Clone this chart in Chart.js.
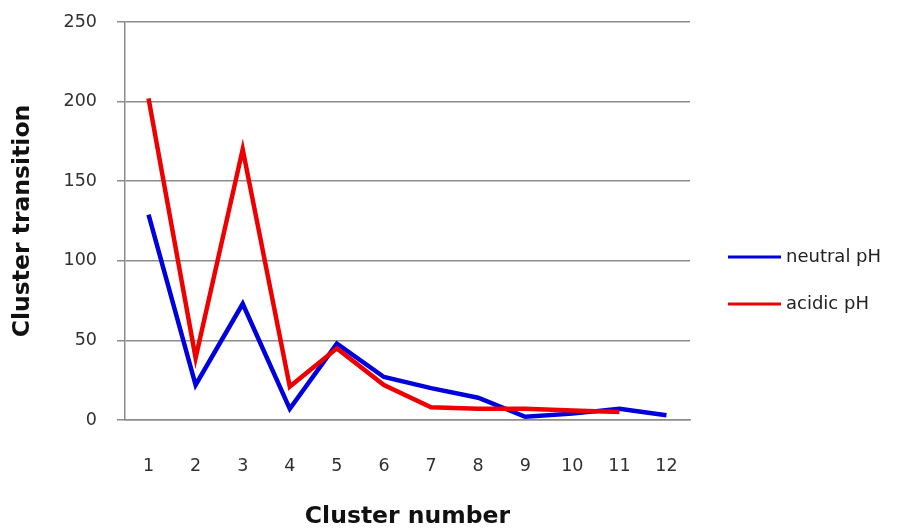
<!DOCTYPE html>
<html>
<head>
<meta charset="utf-8">
<script src="https://cdn.jsdelivr.net/npm/chart.js@4/dist/chart.umd.min.js"></script>
<style>
  html, body { margin: 0; padding: 0; background: #fff; }
  #wrap { width: 901px; height: 531px; position: relative; }
</style>
</head>
<body>
<div id="wrap"><canvas id="c"></canvas></div>
<script>
// Cluster transitions per cluster, at neutral and acidic pH
const clusters = ['1', '2', '3', '4', '5', '6', '7', '8', '9', '10', '11', '12'];
const neutralPH = [129, 22, 73, 7, 48, 27, 20, 14, 2, 4, 7, 3];
const acidicPH = [202, 39, 170, 21, 45, 22, 8, 7, 7, 6, 5, null];
const yTicks = [0, 50, 100, 150, 200, 250];

const FONT = '"DejaVu Sans", "Open Sans", sans-serif';

// Legend to the right of the plot: a short coloured line then the label
const sideLegend = {
  id: 'sideLegend',
  afterDraw(chart) {
    const { ctx, chartArea } = chart;
    const rows = [235, 282];
    ctx.save();
    chart.data.datasets.forEach((ds, i) => {
      const y = chartArea.top + rows[i];
      const x0 = chartArea.right + 38;
      ctx.strokeStyle = ds.borderColor;
      ctx.lineWidth = 3;
      ctx.beginPath();
      ctx.moveTo(x0, y);
      ctx.lineTo(x0 + 53, y);
      ctx.stroke();
      ctx.fillStyle = '#222';
      ctx.font = '18px ' + FONT;
      ctx.textBaseline = 'middle';
      ctx.textAlign = 'left';
      ctx.fillText(ds.label, x0 + 58, y);
    });
    ctx.restore();
  }
};

new Chart(document.getElementById('c'), {
  type: 'line',
  data: {
    labels: clusters,
    datasets: [
      { label: 'neutral pH', data: neutralPH, borderColor: '#0000dd', borderWidth: 4.5, order: 1 },
      { label: 'acidic pH', data: acidicPH, borderColor: '#ee0000', borderWidth: 4.5, order: 0 }
    ]
  },
  options: {
    responsive: true,
    maintainAspectRatio: false,
    animation: false,
    events: [],
    layout: { padding: { left: 9, right: 211, top: 22, bottom: 0 } },
    elements: {
      point: { radius: 0 },
      line: { tension: 0, borderJoinStyle: 'miter', borderCapStyle: 'butt' }
    },
    plugins: {
      legend: { display: false },
      tooltip: { enabled: false }
    },
    scales: {
      x: {
        offset: true,
        afterFit(scale) { scale.height = 111; },
        grid: { display: false, drawTicks: false },
        border: { display: true, color: '#8c8c8c', width: 1.5 },
        ticks: { color: '#303030', font: { family: FONT, size: 17.5 }, padding: 36 },
        title: {
          display: true, text: 'Cluster number', color: '#111',
          font: { family: FONT, size: 23.5, weight: 'bold' }, padding: 0
        }
      },
      y: {
        min: 0, max: 250,
        afterBuildTicks(scale) { scale.ticks = yTicks.map(v => ({ value: v })); },
        afterFit(scale) {
          scale.width = 116;
          scale.paddingTop = 0;
          scale.paddingBottom = 0;
        },
        grid: { color: '#8c8c8c', lineWidth: 1.5, tickLength: 8 },
        border: { display: true, color: '#8c8c8c', width: 1.5 },
        ticks: { color: '#303030', font: { family: FONT, size: 17.5 }, padding: 20 },
        title: {
          display: true, text: 'Cluster transition', color: '#111',
          font: { family: FONT, size: 23.5, weight: 'bold' }, padding: 0
        }
      }
    }
  },
  plugins: [sideLegend]
});
</script>
</body>
</html>
